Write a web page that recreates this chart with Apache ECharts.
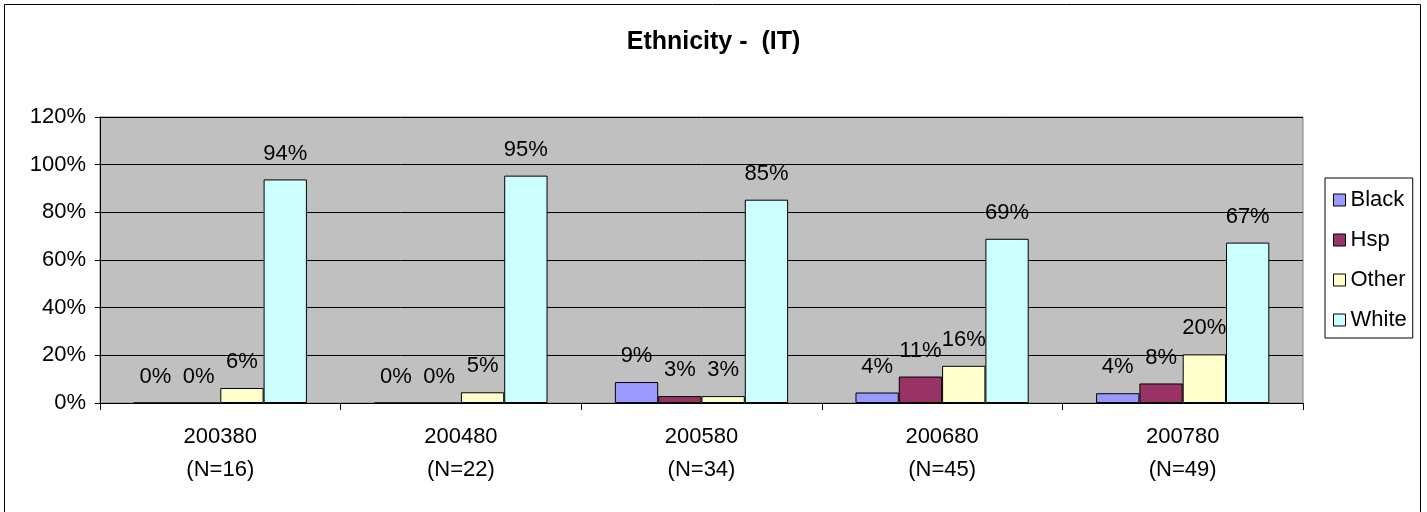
<!DOCTYPE html>
<html>
<head>
<meta charset="utf-8">
<script src="https://cdn.jsdelivr.net/npm/echarts@6/dist/echarts.min.js"></script>
<style>html,body{margin:0;padding:0;background:#fff}#c{width:1427px;height:512px}</style>
</head>
<body>
<div id="c"></div>
<script>
const categories = ['200380\n(N=16)', '200480\n(N=22)', '200580\n(N=34)', '200680\n(N=45)', '200780\n(N=49)'];
const seriesNames = ['Black', 'Hsp', 'Other', 'White'];
const black = [0, 0, 8.8, 4.4, 4.1];
const hsp = [0, 0, 2.9, 11.1, 8.2];
const other = [6.3, 4.5, 2.9, 15.6, 20.4];
const white = [93.8, 95.4, 85.3, 68.9, 67.3];
const yTicks = [0, 20, 40, 60, 80, 100, 120];
const colors = ['#9999FF', '#993366', '#FFFFCC', '#CCFFFF'];
const FONT = 'Arial, "Liberation Sans", sans-serif';

const chart = echarts.init(document.getElementById('c'), null, {renderer: 'canvas'});
const datasets = [black, hsp, other, white];
const series = datasets.map((d, i) => ({
  name: seriesNames[i],
  type: 'bar',
  data: d,
  barGap: '0%',
  barCategoryGap: '28%',
  itemStyle: {color: colors[i], borderColor: '#000', borderWidth: 1},
  label: {
    show: true, position: 'top', distance: 15,
    color: '#000', fontFamily: FONT, fontSize: 22,
    formatter: p => Math.round(p.value) + '%'
  },
  emphasis: {disabled: true}
}));

chart.setOption({
  animation: false,
  backgroundColor: '#fff',
  title: {
    text: 'Ethnicity -  (IT)',
    left: 'center', top: 25,
    textStyle: {fontFamily: FONT, fontSize: 25, fontWeight: 'bold', color: '#000'}
  },
  graphic: [{
    type: 'rect', silent: true, z: -1,
    shape: {x: 4.5, y: 4.5, width: 1416, height: 520},
    style: {fill: 'none', stroke: '#000', lineWidth: 1}
  }],
  legend: {
    orient: 'vertical',
    left: 1325, top: 178,
    padding: [11, 6, 7, 8],
    itemGap: 18,
    itemWidth: 12, itemHeight: 12,
    icon: 'rect',
    borderColor: '#000', borderWidth: 1,
    backgroundColor: '#fff',
    itemStyle: {borderColor: '#000', borderWidth: 1},
    textStyle: {fontFamily: FONT, fontSize: 22, color: '#000', lineHeight: 22, padding: [0, 0, 0, 0]},
    data: seriesNames
  },
  grid: {
    left: 100, right: 124, top: 117, bottom: 109,
    show: true, backgroundColor: '#C0C0C0', borderColor: '#808080', borderWidth: 1
  },
  xAxis: {
    type: 'category',
    data: categories,
    boundaryGap: true,
    axisLine: {lineStyle: {color: '#000', width: 1}},
    axisTick: {show: true, alignWithLabel: false, length: 7, lineStyle: {color: '#000'}},
    axisLabel: {fontFamily: FONT, fontSize: 22, color: '#000', lineHeight: 33, margin: 17, interval: 0}
  },
  yAxis: {
    type: 'value',
    min: yTicks[0], max: yTicks[yTicks.length - 1], interval: 20,
    axisLine: {show: true, lineStyle: {color: '#000', width: 1}},
    axisTick: {show: true, length: 5, lineStyle: {color: '#000'}},
    splitLine: {show: true, lineStyle: {color: '#000', width: 1}},
    axisLabel: {fontFamily: FONT, fontSize: 22, color: '#000', margin: 14, formatter: '{value}%'}
  },
  series: series
});
</script>
</body>
</html>
